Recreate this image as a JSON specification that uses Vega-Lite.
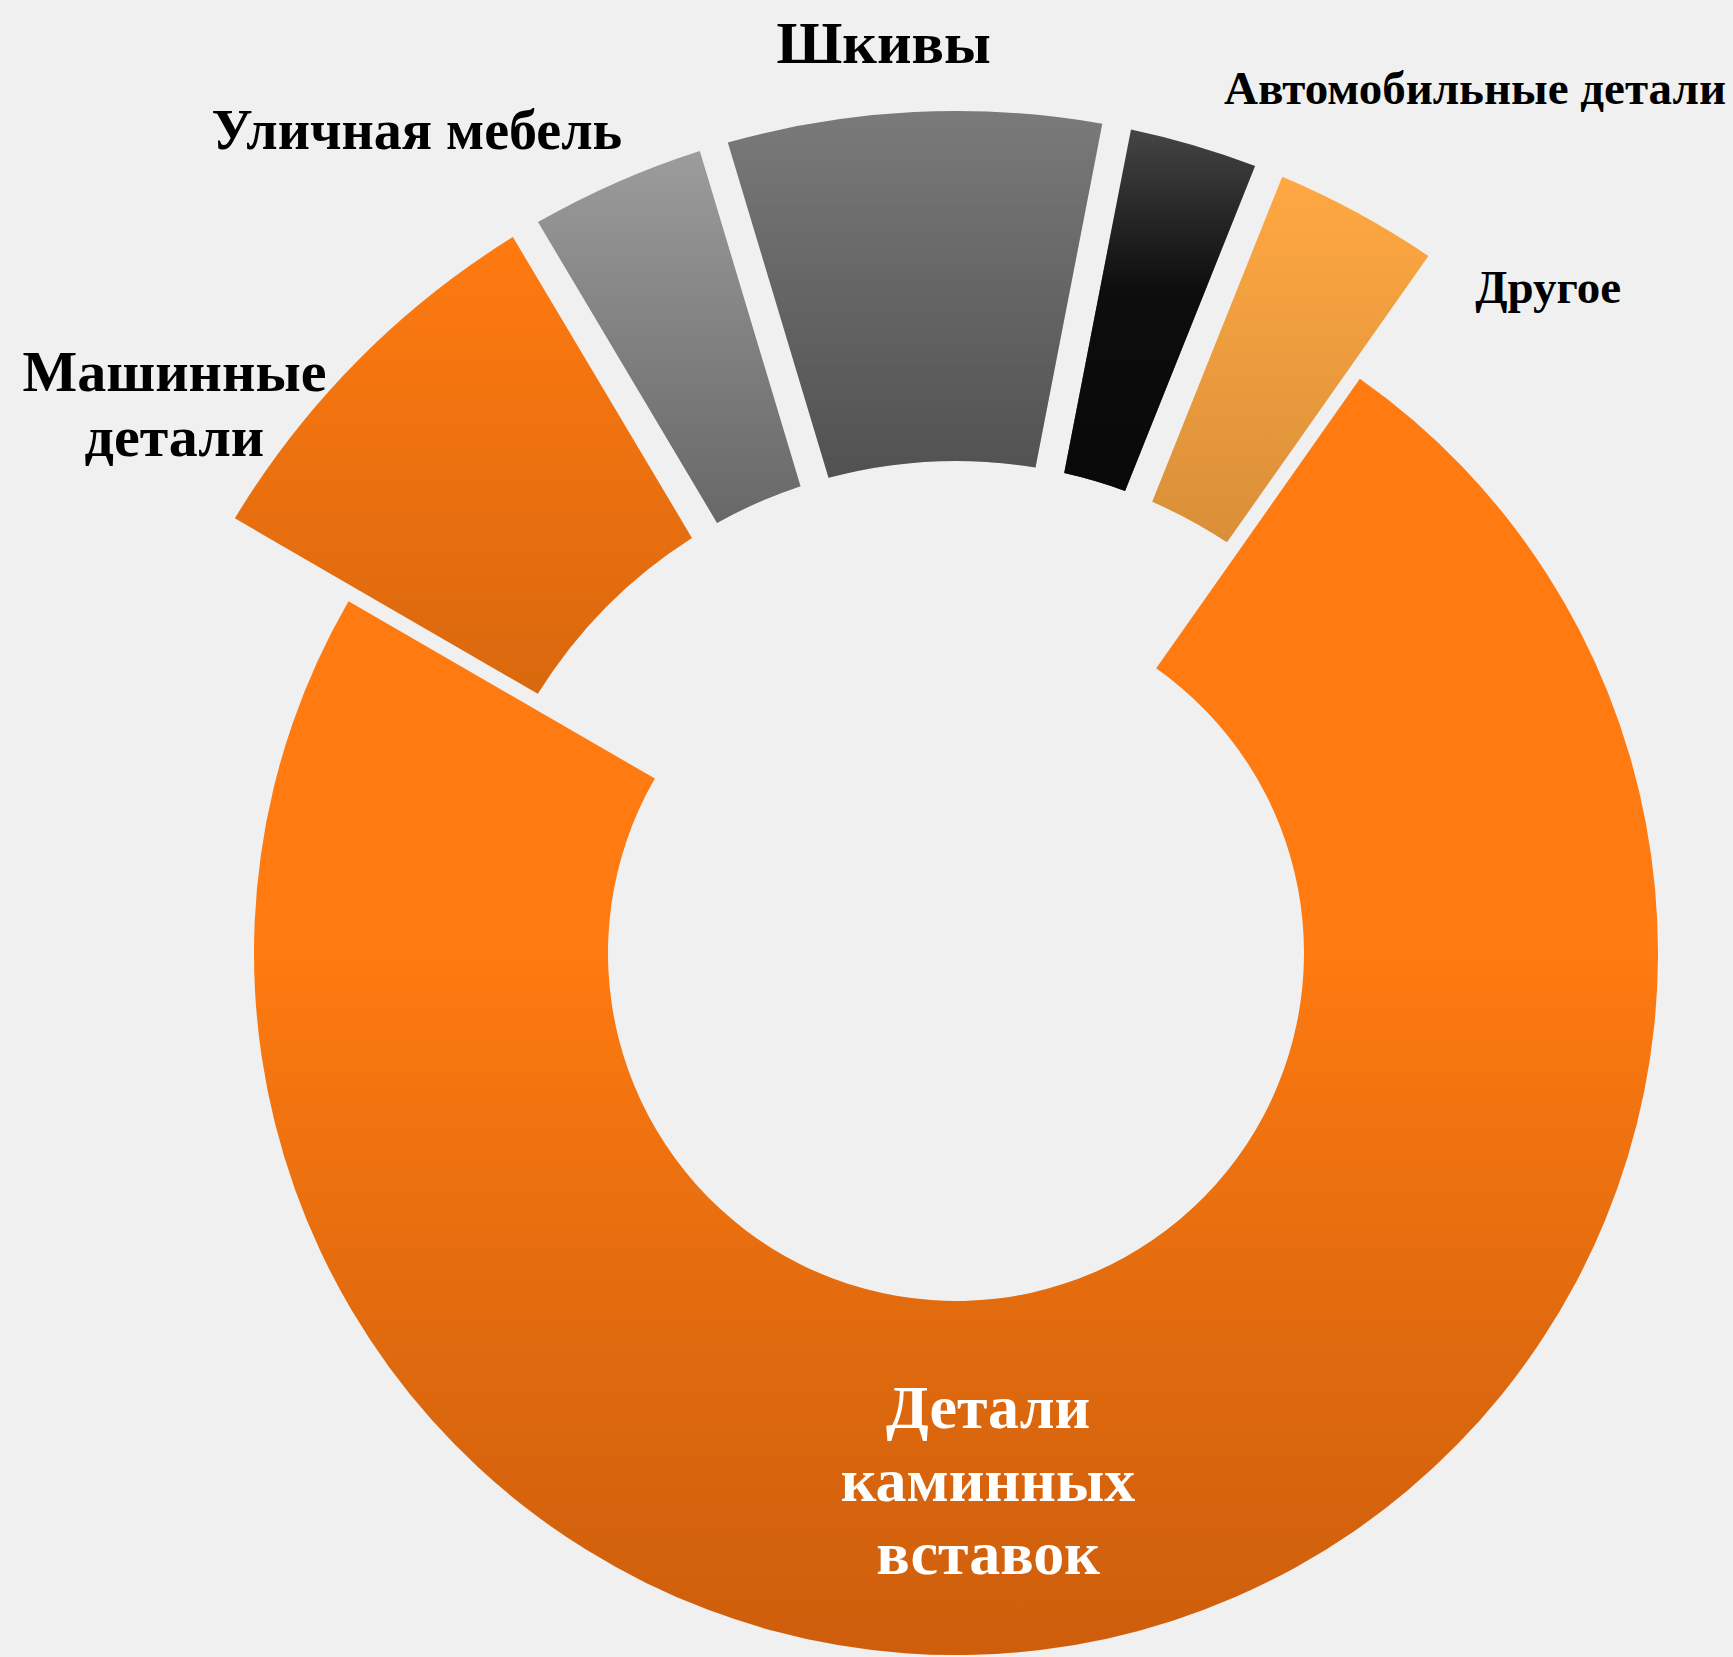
{
  "$schema": "https://vega.github.io/schema/vega-lite/v6.json",
  "width": 1554,
  "height": 1408,
  "autosize": "none",
  "padding": {"left": 179, "top": 249, "right": 0, "bottom": 0},
  "background": "#F0F0F0",
  "view": {"stroke": null},
  "data": {
    "values": [
      {"category": "Автомобильные детали", "value": 3.0},
      {"category": "Другое", "value": 3.7},
      {"category": "Детали каминных вставок", "value": 73.6},
      {"category": "Машинные детали", "value": 8.1},
      {"category": "Уличная мебель", "value": 3.9},
      {"category": "Шкивы", "value": 7.7}
    ]
  },
  "transform": [
    {"stack": "value", "groupby": [], "as": ["v0", "v1"], "offset": "normalize"},
    {"calculate": "(datum.v0 + datum.v1) / 2", "as": "mid"}
  ],
  "layer": [
    {
      "transform": [{"filter": "datum.category === 'Детали каминных вставок'"}],
      "mark": {"type": "arc", "innerRadius": 348, "outerRadius": 702},
      "encoding": {
        "theta": {"field": "v0", "type": "quantitative", "scale": {"domain": [0, 1], "range": [0.192, 6.4752]}},
        "theta2": {"field": "v1"},
        "color": {
          "field": "category", "type": "nominal", "legend": null,
          "scale": {
            "domain": ["Автомобильные детали", "Другое", "Детали каминных вставок", "Машинные детали", "Уличная мебель", "Шкивы"],
            "range": ["#454545", "#FFA842", "#FF7A10", "#FF7A10", "#9C9C9C", "#7A7A7A"]
          }
        }
      }
    },
    {
      "transform": [{"filter": "datum.category === 'Детали каминных вставок'"}],
      "mark": {
        "type": "arc", "innerRadius": 348, "outerRadius": 702,
        "fill": {"gradient": "linear", "x1": 0, "y1": 0, "x2": 0, "y2": 1,
          "stops": [{"offset": 0, "color": "rgba(0,0,0,0)"}, {"offset": 0.45, "color": "rgba(0,0,0,0)"}, {"offset": 1, "color": "rgba(60,10,0,0.25)"}]}
      },
      "encoding": {
        "theta": {"field": "v0", "type": "quantitative", "scale": {"domain": [0, 1], "range": [0.192, 6.4752]}},
        "theta2": {"field": "v1"}
      }
    },
    {
      "transform": [{"filter": "datum.category !== 'Детали каминных вставок'"}],
      "mark": {"type": "arc", "innerRadius": 492, "outerRadius": 842, "padAngle": 0.03},
      "encoding": {
        "theta": {"field": "v0", "type": "quantitative", "scale": {"domain": [0, 1], "range": [0.192, 6.4752]}},
        "theta2": {"field": "v1"},
        "color": {"field": "category", "type": "nominal", "legend": null}
      }
    },
    {
      "transform": [{"filter": "datum.category !== 'Детали каминных вставок'"}],
      "mark": {
        "type": "arc", "innerRadius": 492, "outerRadius": 842, "padAngle": 0.03,
        "fill": {"gradient": "linear", "x1": 0, "y1": 0, "x2": 0, "y2": 1,
          "stops": [{"offset": 0, "color": "rgba(0,0,0,0)"}, {"offset": 1, "color": "rgba(0,0,0,0.15)"}]}
      },
      "encoding": {
        "theta": {"field": "v0", "type": "quantitative", "scale": {"domain": [0, 1], "range": [0.192, 6.4752]}},
        "theta2": {"field": "v1"}
      }
    },
    {
      "transform": [{"filter": "datum.category === 'Шкивы' || datum.category === 'Уличная мебель'"}],
      "mark": {
        "type": "arc", "innerRadius": 492, "outerRadius": 842, "padAngle": 0.03,
        "fill": {"gradient": "linear", "x1": 0, "y1": 0, "x2": 0, "y2": 1,
          "stops": [{"offset": 0, "color": "rgba(0,0,0,0)"}, {"offset": 1, "color": "rgba(0,0,0,0.22)"}]}
      },
      "encoding": {
        "theta": {"field": "v0", "type": "quantitative", "scale": {"domain": [0, 1], "range": [0.192, 6.4752]}},
        "theta2": {"field": "v1"}
      }
    },
    {
      "transform": [{"filter": "datum.category === 'Автомобильные детали'"}],
      "mark": {
        "type": "arc", "innerRadius": 492, "outerRadius": 842, "padAngle": 0.03,
        "fill": {"gradient": "linear", "x1": 0, "y1": 0, "x2": 0, "y2": 1,
          "stops": [{"offset": 0, "color": "rgba(0,0,0,0)"}, {"offset": 0.45, "color": "rgba(0,0,0,0.8)"}, {"offset": 1, "color": "rgba(0,0,0,0.85)"}]}
      },
      "encoding": {
        "theta": {"field": "v0", "type": "quantitative", "scale": {"domain": [0, 1], "range": [0.192, 6.4752]}},
        "theta2": {"field": "v1"}
      }
    },
    {
      "transform": [{"filter": "datum.category === 'Автомобильные детали'"}],
      "mark": {"type": "text", "font": "Liberation Serif", "fontWeight": "bold", "fontSize": 47, "fill": "#000000", "align": "center", "baseline": "middle", "dx": 279, "dy": -48},
      "encoding": {
        "theta": {"field": "mid", "type": "quantitative", "scale": {"domain": [0, 1], "range": [0.192, 6.4752]}},
        "radius": {"value": 850},
        "text": {"field": "category"}
      }
    },
    {
      "transform": [{"filter": "datum.category === 'Другое'"}],
      "mark": {"type": "text", "font": "Liberation Serif", "fontWeight": "bold", "fontSize": 47, "fill": "#000000", "align": "center", "baseline": "middle", "dx": 187, "dy": 83},
      "encoding": {
        "theta": {"field": "mid", "type": "quantitative", "scale": {"domain": [0, 1], "range": [0.192, 6.4752]}},
        "radius": {"value": 850},
        "text": {"field": "category"}
      }
    },
    {
      "transform": [{"filter": "datum.category === 'Машинные детали'"}],
      "mark": {"type": "text", "font": "Liberation Serif", "fontWeight": "bold", "fontSize": 58, "fill": "#000000", "align": "center", "baseline": "middle", "lineBreak": " ", "lineHeight": 65, "dx": -177, "dy": 18},
      "encoding": {
        "theta": {"field": "mid", "type": "quantitative", "scale": {"domain": [0, 1], "range": [0.192, 6.4752]}},
        "radius": {"value": 850},
        "text": {"field": "category"}
      }
    },
    {
      "transform": [{"filter": "datum.category === 'Уличная мебель'"}],
      "mark": {"type": "text", "font": "Liberation Serif", "fontWeight": "bold", "fontSize": 56, "fill": "#000000", "align": "center", "baseline": "middle", "dx": -197, "dy": -43},
      "encoding": {
        "theta": {"field": "mid", "type": "quantitative", "scale": {"domain": [0, 1], "range": [0.192, 6.4752]}},
        "radius": {"value": 850},
        "text": {"field": "category"}
      }
    },
    {
      "transform": [{"filter": "datum.category === 'Шкивы'"}],
      "mark": {"type": "text", "font": "Liberation Serif", "fontWeight": "bold", "fontSize": 60, "fill": "#000000", "align": "center", "baseline": "middle", "dx": -30, "dy": -59},
      "encoding": {
        "theta": {"field": "mid", "type": "quantitative", "scale": {"domain": [0, 1], "range": [0.192, 6.4752]}},
        "radius": {"value": 850},
        "text": {"field": "category"}
      }
    },
    {
      "transform": [{"filter": "datum.category === 'Детали каминных вставок'"}],
      "mark": {"type": "text", "font": "Liberation Serif", "fontWeight": "bold", "fontSize": 62, "fill": "#FFFFFF", "align": "center", "baseline": "middle", "lineBreak": " ", "lineHeight": 73, "dx": -71, "dy": -13},
      "encoding": {
        "theta": {"field": "mid", "type": "quantitative", "scale": {"domain": [0, 1], "range": [0.192, 6.4752]}},
        "radius": {"value": 480},
        "text": {"field": "category"}
      }
    }
  ]
}
